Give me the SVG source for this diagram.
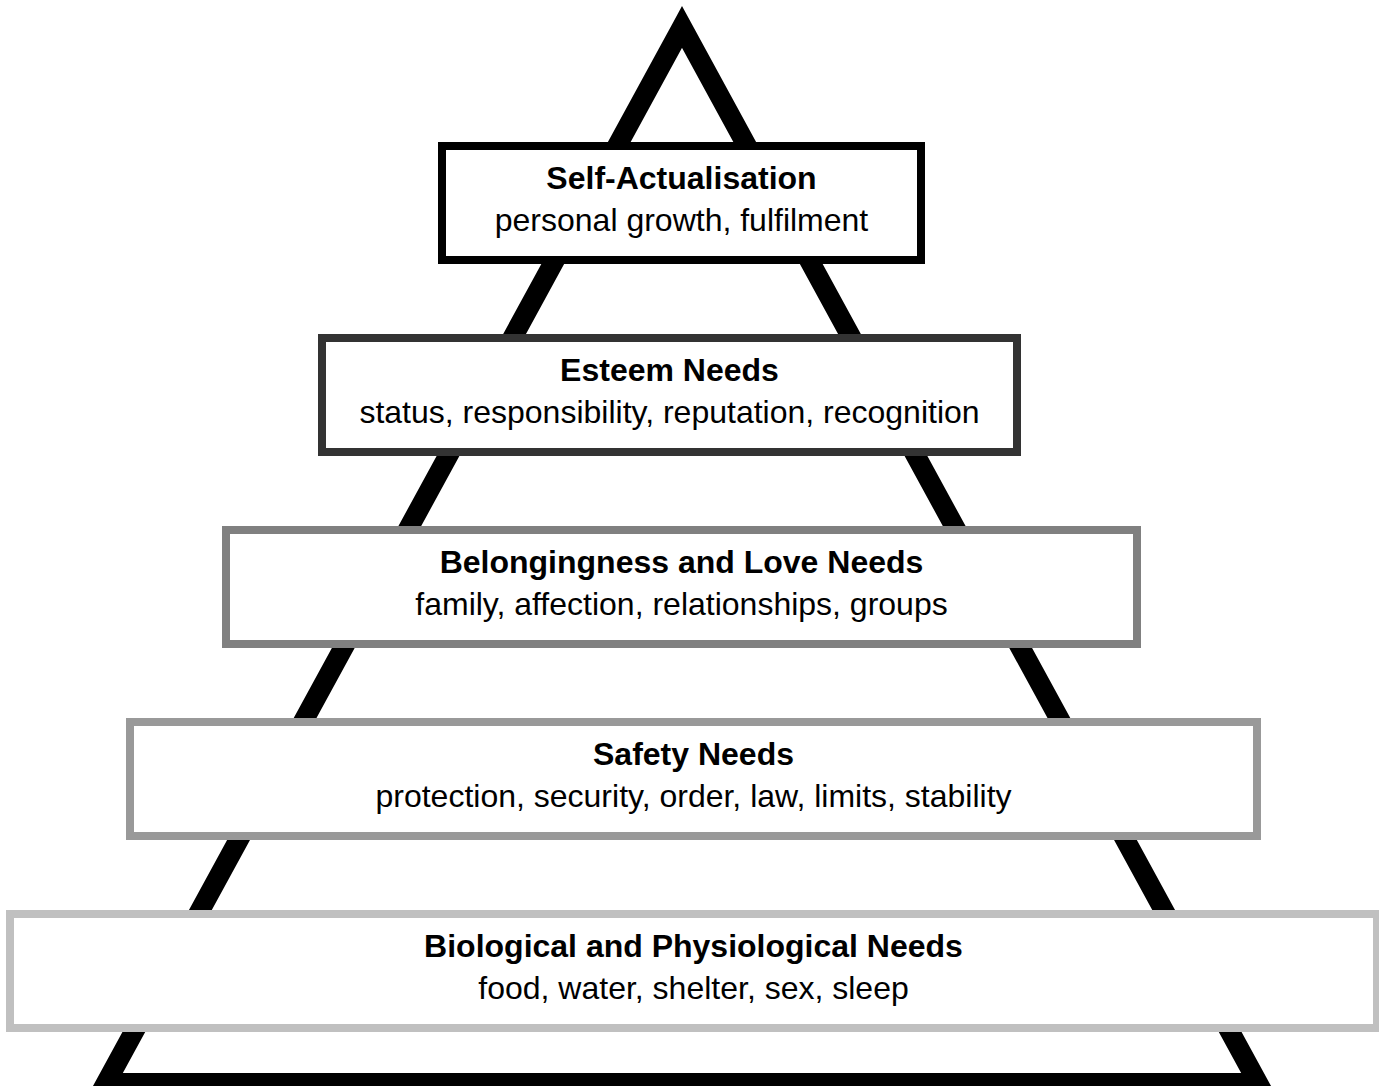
<svg xmlns="http://www.w3.org/2000/svg" width="1379" height="1086" viewBox="0 0 1379 1086">
<style>
.box{fill:#fff;stroke-width:8}
.t{font-family:"Liberation Sans",Arial,sans-serif;font-size:32px;text-anchor:middle;fill:#000}
.b{font-weight:bold}
</style>
<rect width="1379" height="1086" fill="#fff"/>
<g id="pyramid">
<polygon points="682,27 106,1083 1258,1083" fill="none" stroke="#000" stroke-width="20" stroke-linejoin="miter" stroke-miterlimit="10"/>
</g>
<g id="connectors"></g>
<g id="self-actualisation">
<rect class="box" x="442" y="146" width="479" height="114" stroke="#000"/>
<text class="t b" x="681.5" y="189">Self-Actualisation</text>
<text class="t" x="681.5" y="231">personal growth, fulfilment</text>
</g>
<g id="esteem">
<rect class="box" x="322" y="338" width="695" height="114" stroke="#333"/>
<text class="t b" x="669.5" y="381">Esteem Needs</text>
<text class="t" x="669.5" y="423">status, responsibility, reputation, recognition</text>
</g>
<g id="belonging">
<rect class="box" x="226" y="530" width="911" height="114" stroke="#808080"/>
<text class="t b" x="681.5" y="573">Belongingness and Love Needs</text>
<text class="t" x="681.5" y="615">family, affection, relationships, groups</text>
</g>
<g id="safety">
<rect class="box" x="130" y="722" width="1127" height="114" stroke="#999"/>
<text class="t b" x="693.5" y="765">Safety Needs</text>
<text class="t" x="693.5" y="807">protection, security, order, law, limits, stability</text>
</g>
<g id="biological">
<rect class="box" x="10" y="914" width="1367" height="114" stroke="#c0c0c0"/>
<text class="t b" x="693.5" y="957">Biological and Physiological Needs</text>
<text class="t" x="693.5" y="999">food, water, shelter, sex, sleep</text>
</g>
</svg>
